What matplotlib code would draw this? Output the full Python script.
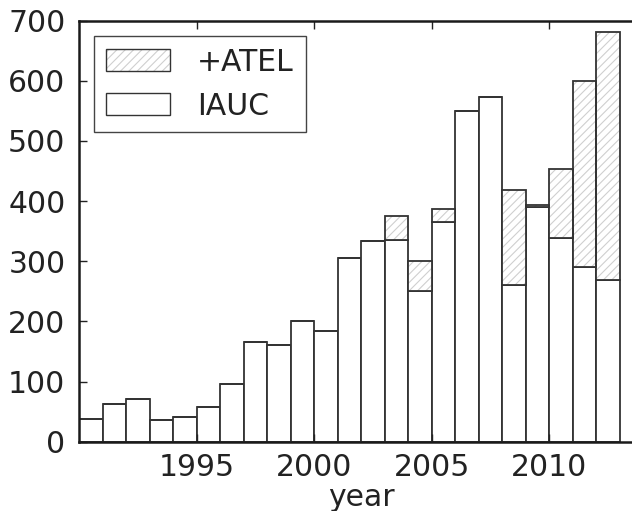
import matplotlib

matplotlib.use("Agg")
import matplotlib.pyplot as plt
import numpy as np
from matplotlib.legend_handler import HandlerTuple
from matplotlib.patches import Patch

years = np.arange(1990, 2013)
iauc = [37, 62, 71, 36, 41, 57, 96, 165, 160, 200, 184, 306, 334, 336, 251,
        366, 550, 573, 261, 390, 339, 290, 269]
atel = [0, 0, 0, 0, 0, 0, 0, 0, 0, 0, 0, 0, 0, 39, 50,
        21, 0, 0, 157, 4, 114, 310, 412]

plt.rcParams["font.family"] = "DejaVu Sans"
plt.rcParams["font.size"] = 21.5
plt.rcParams["hatch.linewidth"] = 0.8

edge = "#333333"
hatch_col = "#cfcfcf"

fig = plt.figure(figsize=(6.32, 5.11), dpi=100)
ax = fig.add_axes([79.3 / 632, 1 - 441.7 / 511, 564 / 632, 421 / 511])

ax.bar(years, iauc, width=1.0, align="edge", color="white",
       edgecolor=edge, linewidth=1.3)
# hatch drawn in light grey, outline drawn separately in dark grey
ax.bar(years, atel, width=1.0, align="edge", bottom=iauc, color="white",
       edgecolor=hatch_col, linewidth=0, hatch="////")
ax.bar(years, atel, width=1.0, align="edge", bottom=iauc, fill=False,
       edgecolor=edge, linewidth=1.3)

ax.set_xlim(1990, 2014)
ax.set_ylim(0, 700)
ax.set_xticks([1995, 2000, 2005, 2010])
ax.set_yticks(range(0, 701, 100))
ax.tick_params(axis="x", direction="in", top=True, length=6, width=1,
               pad=8, colors="#222222", labelcolor="#222222")
ax.tick_params(axis="y", direction="in", length=6, width=1, pad=10,
               colors="#222222", labelcolor="#222222")
for side in ax.spines.values():
    side.set_linewidth(1.8)
    side.set_color("#1a1a1a")
ax.set_xlabel("year", labelpad=1, color="#222222")

atel_handle = (
    Patch(facecolor="white", edgecolor=hatch_col, hatch="////", linewidth=0),
    Patch(fill=False, edgecolor=edge, linewidth=1.0),
)
iauc_handle = Patch(facecolor="white", edgecolor=edge, linewidth=1.0)
leg = ax.legend([atel_handle, iauc_handle], ["+ATEL", "IAUC"],
                handler_map={tuple: HandlerTuple(ndivide=1, pad=0)},
                loc="upper left", fancybox=False, framealpha=1,
                edgecolor="#444444", handlelength=2.15, handleheight=0.74,
                handletextpad=0.9, labelspacing=0.5)
leg.get_frame().set_linewidth(1.0)
for t in leg.get_texts():
    t.set_color("#222222")

fig.savefig("out.png", dpi=100)
